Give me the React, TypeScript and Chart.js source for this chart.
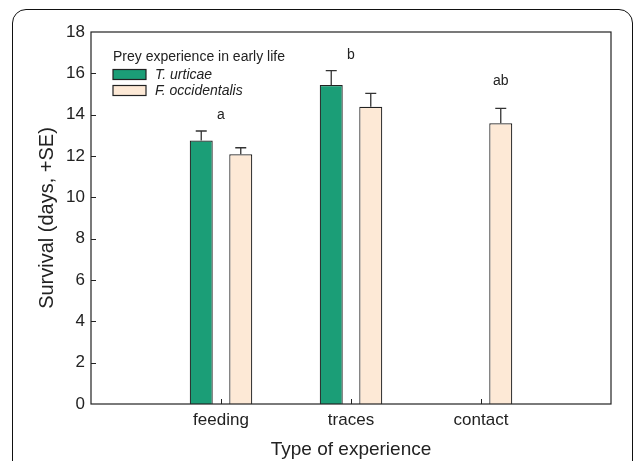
import React, { useEffect, useRef } from "react";
import { Chart, registerables } from "chart.js";

Chart.register(...registerables);

const categories = ["feeding", "traces", "contact"];
const seriesNames = ["T. urticae", "F. occidentalis"];
const tUrticaeMeans: (number | null)[] = [12.75, 15.43, null];
const tUrticaeSE: (number | null)[] = [0.46, 0.7, null];
const fOccidentalisMeans: (number | null)[] = [12.08, 14.38, 13.58];
const fOccidentalisSE: (number | null)[] = [0.32, 0.65, 0.72];
const sigLetters = ["a", "b", "ab"];
const sigLetterY = [14.0, 16.9, 15.6];
const yTicks = [0, 2, 4, 6, 8, 10, 12, 14, 16, 18];
const legendTitle = "Prey experience in early life";
const yTitle = "Survival (days, +SE)";
const xTitle = "Type of experience";

const FONT = "'Liberation Sans', Arial, Helvetica, sans-serif";
const INK = "#222";
const GREEN = "#1b9e77";
const PEACH = "#fde9d6";

const overlay = {
  id: "overlay",
  afterDatasetsDraw(chart: any) {
    const ctx = chart.ctx as CanvasRenderingContext2D;
    const { left, right, top, bottom } = chart.chartArea;
    const ys = chart.scales.y;
    const xs = chart.scales.x;
    ctx.save();

    // error bars
    chart.data.datasets.forEach((ds: any, di: number) => {
      const meta = chart.getDatasetMeta(di);
      meta.data.forEach((el: any, i: number) => {
        const v = ds.data[i];
        const s = ds.se[i];
        if (v == null || s == null) return;
        const px = el.x;
        const y0 = ys.getPixelForValue(v);
        const y1 = ys.getPixelForValue(v + s);
        ctx.strokeStyle = "#333";
        ctx.lineWidth = 1.3;
        ctx.beginPath();
        ctx.moveTo(px, y0);
        ctx.lineTo(px, y1);
        ctx.moveTo(px - 5.5, y1);
        ctx.lineTo(px + 5.5, y1);
        ctx.stroke();
      });
    });

    // frame box
    ctx.strokeStyle = INK;
    ctx.lineWidth = 1.2;
    ctx.strokeRect(left, top, right - left, bottom - top);

    // inward tick marks
    ctx.lineWidth = 1;
    ctx.beginPath();
    yTicks.forEach((t) => {
      if (t === yTicks[0] || t === yTicks[yTicks.length - 1]) return;
      const py = Math.round(ys.getPixelForValue(t)) + 0.5;
      ctx.moveTo(left, py);
      ctx.lineTo(left + 5, py);
    });
    categories.forEach((_, i) => {
      const px = Math.round(xs.getPixelForValue(i + 1)) + 0.5;
      ctx.moveTo(px, bottom);
      ctx.lineTo(px, bottom - 5);
    });
    ctx.stroke();

    // significance letters
    ctx.fillStyle = INK;
    ctx.font = `14px ${FONT}`;
    ctx.textAlign = "center";
    ctx.textBaseline = "middle";
    sigLetters.forEach((letter, i) => {
      const xsPos: number[] = [];
      chart.data.datasets.forEach((ds: any, di: number) => {
        if (ds.data[i + 1] != null) xsPos.push(chart.getDatasetMeta(di).data[i + 1].x);
      });
      const px = xsPos.reduce((a, b) => a + b, 0) / xsPos.length;
      ctx.fillText(letter, px, ys.getPixelForValue(sigLetterY[i]));
    });

    // legend
    const lx = left + 22;
    ctx.textAlign = "left";
    ctx.font = `14px ${FONT}`;
    ctx.fillText(legendTitle, lx, 57);
    chart.data.datasets.forEach((ds: any, di: number) => {
      const cy = 74.5 + di * 16;
      ctx.fillStyle = ds.backgroundColor;
      ctx.fillRect(lx, cy - 5, 33, 10);
      ctx.strokeStyle = INK;
      ctx.lineWidth = 1.2;
      ctx.strokeRect(lx, cy - 5, 33, 10);
      ctx.fillStyle = INK;
      ctx.font = `italic 14px ${FONT}`;
      ctx.fillText(ds.label, lx + 42, cy + 0.5);
    });

    ctx.restore();
  },
};

export default function App() {
  const canvasRef = useRef<HTMLCanvasElement | null>(null);

  useEffect(() => {
    if (!canvasRef.current) return;
    const labels = ["", ...categories, ""];
    const chart = new Chart(canvasRef.current, {
      type: "bar",
      data: {
        labels,
        datasets: [
          {
            label: seriesNames[0],
            data: [null, ...tUrticaeMeans, null],
            se: [null, ...tUrticaeSE, null],
            backgroundColor: GREEN,
            borderColor: INK,
            borderWidth: 1.2,
            categoryPercentage: 0.608,
            barPercentage: 0.582,
          } as any,
          {
            label: seriesNames[1],
            data: [null, ...fOccidentalisMeans, null],
            se: [null, ...fOccidentalisSE, null],
            backgroundColor: PEACH,
            borderColor: INK,
            borderWidth: 1.2,
            categoryPercentage: 0.608,
            barPercentage: 0.582,
          } as any,
        ],
      },
      options: {
        responsive: false,
        animation: false,
        devicePixelRatio: 1,
        layout: { padding: { left: 20, top: 32, right: 24, bottom: 0 } },
        plugins: {
          legend: { display: false },
          tooltip: { enabled: false },
        },
        scales: {
          x: {
            type: "category",
            offset: false,
            grid: { display: false, drawTicks: false },
            border: { display: false },
            ticks: {
              autoSkip: false,
              maxRotation: 0,
              padding: 6,
              color: INK,
              font: { family: FONT, size: 17 },
            },
            title: {
              display: true,
              text: xTitle,
              color: INK,
              font: { family: FONT, size: 19 },
              padding: { top: 0, bottom: 0 },
            },
            afterFit(s: any) {
              s.height = 57;
            },
          },
          y: {
            min: 0,
            max: 18,
            grid: { display: false, drawTicks: false },
            border: { display: false },
            ticks: {
              stepSize: 2,
              padding: 6,
              color: INK,
              font: { family: FONT, size: 17 },
            },
            title: {
              display: true,
              text: yTitle,
              color: INK,
              font: { family: FONT, size: 20 },
              padding: { top: 15, bottom: 0 },
            },
            afterFit(s: any) {
              s.width = 71;
            },
          },
        },
      } as any,
      plugins: [overlay],
    });
    return () => chart.destroy();
  }, []);

  return (
    <div
      style={{
        position: "fixed",
        left: 0,
        top: 0,
        width: 635,
        height: 461,
        background: "#fff",
        overflow: "hidden",
      }}
    >
      <div
        style={{
          position: "absolute",
          left: 12,
          top: 9,
          width: 621,
          height: 520,
          boxSizing: "border-box",
          border: "1.5px solid #111",
          borderRadius: 14,
        }}
      />
      <canvas
        ref={canvasRef}
        width={635}
        height={461}
        style={{ position: "absolute", left: 0, top: 0, display: "block" }}
      />
    </div>
  );
}
